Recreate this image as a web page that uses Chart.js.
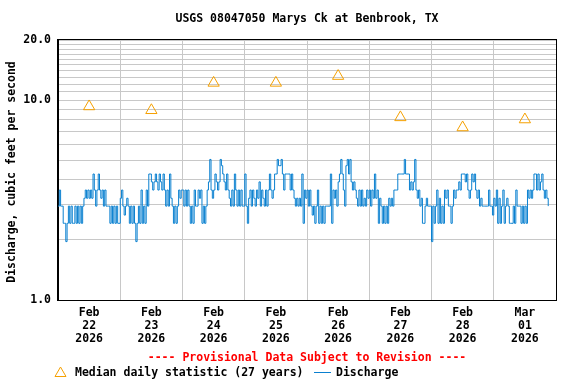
<!DOCTYPE html>
<html>
<head>
<meta charset="utf-8">
<script src="https://cdn.jsdelivr.net/npm/chart.js@4/dist/chart.umd.min.js"></script>
<style>
  html, body { margin: 0; padding: 0; background: #fff; }
  #wrap { width: 576px; height: 384px; }
</style>
</head>
<body>
<div id="wrap"><canvas id="c" width="576" height="384"></canvas></div>
<script>
// ─── DATA ────────────────────────────────────────────────────────────────
const chartTitle = 'USGS 08047050 Marys Ck at Benbrook, TX';
const yAxisTitle = 'Discharge, cubic feet per second';

// x tick labels, one per day (shown at noon)
const tickMonths = ['Feb', 'Feb', 'Feb', 'Feb', 'Feb', 'Feb', 'Feb', 'Mar'];
const tickDays   = ['22', '23', '24', '25', '26', '27', '28', '01'];
const tickYears  = ['2026', '2026', '2026', '2026', '2026', '2026', '2026', '2026'];

const yLabelled = [1, 10, 20];

// median daily statistic (cfs), one per day
const medianDaily = [9.3, 8.9, 12.2, 12.2, 13.2, 8.2, 7.3, 8.0];

// discharge steps seen in the 15-minute record (cfs)
const levels = [1.96, 2.42, 2.66, 2.95, 3.23, 3.55, 3.9, 4.27, 4.7, 5.05];

// half-hourly readings per day, as index into levels
const feb22 = [3,5,3,3,1,1,0,1,3,1,3,1,1,3,1,3,1,3,1,3,4,5,4,5,4,5,4,7,5,3,5,7,5,4,5,3,5,3,3,3,1,3,1,3,1,3,1,1];
const feb23 = [4,5,3,2,3,4,3,1,3,1,3,1,0,1,3,1,5,1,3,1,5,3,7,7,6,5,6,7,6,5,7,6,5,7,5,3,5,3,7,4,3,1,3,1,3,5,4,5];
const feb24 = [5,3,5,3,5,3,1,3,1,5,3,3,5,4,5,1,3,1,3,5,6,9,5,4,5,7,6,5,6,9,8,7,6,5,7,5,4,3,5,3,7,5,3,5,3,5,3,3];
const feb25 = [7,3,1,4,5,3,5,4,3,5,4,6,3,5,4,3,5,3,5,7,5,4,5,7,7,9,8,8,9,7,5,7,7,7,7,5,7,5,4,3,4,3,4,3,7,1,5,4];
const feb26 = [5,3,5,3,2,3,1,3,5,1,3,1,3,1,3,3,3,3,7,1,5,4,5,3,6,7,9,7,5,3,8,9,7,9,6,5,6,5,4,3,5,3,5,3,4,3,5,4];
const feb27 = [5,3,5,4,7,4,5,1,4,3,1,3,1,3,1,4,3,4,3,5,5,5,7,7,7,7,7,9,7,7,7,5,6,5,6,9,5,4,5,3,4,1,1,3,4,3,3,3];
const feb28 = [0,3,1,3,5,1,4,1,3,1,5,4,5,3,3,1,3,5,4,5,5,6,5,7,7,7,6,7,5,4,5,7,6,7,5,4,5,3,4,3,3,3,3,3,5,3,3,2];
const mar01 = [4,3,5,1,4,1,3,5,1,3,4,3,1,1,1,3,1,5,3,3,3,1,3,1,3,1,5,4,5,4,5,7,7,5,7,5,6,7,5,4,5,4,3];

const dayReadings = [feb22, feb23, feb24, feb25, feb26, feb27, feb28, mar01];

// ─── BUILD ───────────────────────────────────────────────────────────────
const discharge = [];
dayReadings.forEach((codes, d) => {
  codes.forEach((c, i) => discharge.push({ x: d * 24 + i * 0.5, y: levels[c] }));
});
const medians = medianDaily.map((v, d) => ({ x: d * 24 + 12, y: v }));

const FONT = '"DejaVu Sans Mono", "Liberation Mono", monospace';
const BLUE = '#0a80d0';
const ORANGE = '#f5a000';
const GRID = '#c8c8c8';

const decorPlugin = {
  id: 'decor',
  afterDraw(chart) {
    const { ctx, chartArea: a } = chart;
    ctx.save();
    // frame
    ctx.strokeStyle = '#000';
    ctx.lineWidth = 1;
    ctx.strokeRect(Math.round(a.left) - 0.5, Math.round(a.top) - 0.5, Math.round(a.right - a.left) + 1, Math.round(a.bottom - a.top) + 1);

    const cx = (a.left + a.right) / 2;
    ctx.font = 'bold 11.5px ' + FONT;
    ctx.textBaseline = 'middle';

    // title
    ctx.fillStyle = '#000';
    ctx.textAlign = 'center';
    ctx.fillText(chartTitle, cx, 19);

    // y title
    ctx.save();
    ctx.translate(12, (a.top + a.bottom) / 2 + 2);
    ctx.rotate(-Math.PI / 2);
    ctx.fillText(yAxisTitle, 0, 0);
    ctx.restore();

    // provisional note
    ctx.fillStyle = '#ff0000';
    ctx.fillText('---- Provisional Data Subject to Revision ----', cx, 358);

    // legend
    const ly = 372;
    ctx.strokeStyle = ORANGE;
    ctx.lineWidth = 1;
    ctx.beginPath();
    ctx.moveTo(60.5, ly - 5);
    ctx.lineTo(66, ly + 4.5);
    ctx.lineTo(55, ly + 4.5);
    ctx.closePath();
    ctx.stroke();
    ctx.fillStyle = '#000';
    ctx.textAlign = 'left';
    ctx.fillText('Median daily statistic (27 years)', 75, ly + 1);
    ctx.strokeStyle = BLUE;
    ctx.beginPath();
    ctx.moveTo(314, ly + 0.5);
    ctx.lineTo(331, ly + 0.5);
    ctx.stroke();
    ctx.fillText('Discharge', 336, ly + 1);
    ctx.restore();
  }
};

new Chart(document.getElementById('c'), {
  type: 'line',
  data: {
    datasets: [
      {
        label: 'Median daily statistic (27 years)',
        type: 'scatter',
        data: medians,
        pointStyle: 'triangle',
        pointRadius: 6.5,
        borderColor: ORANGE,
        backgroundColor: 'rgba(0,0,0,0)',
        borderWidth: 1,
        showLine: false
      },
      {
        label: 'Discharge',
        data: discharge,
        borderColor: BLUE,
        borderWidth: 1,
        pointRadius: 0,
        stepped: true,
        fill: false
      }
    ]
  },
  options: {
    responsive: false,
    animation: false,
    devicePixelRatio: 1,
    layout: { padding: { top: 40, right: 20, left: 0, bottom: 0 } },
    plugins: { legend: { display: false }, title: { display: false }, tooltip: { enabled: false } },
    scales: {
      x: {
        type: 'linear',
        min: 0,
        max: 192,
        afterBuildTicks: s => { s.ticks = []; for (let h = 0; h <= 192; h += 12) s.ticks.push({ value: h }); },
        afterFit: s => { s.height = 84; },
        grid: {
          color: c => (c.tick && c.tick.value % 24 === 0) ? GRID : 'rgba(0,0,0,0)',
          drawTicks: false
        },
        border: { display: true, color: '#000' },
        ticks: {
          autoSkip: false,
          maxRotation: 0,
          padding: 7,
          color: '#000',
          font: { family: FONT, size: 11.5, weight: 'bold', lineHeight: 1.13 },
          callback: v => {
            if (v % 24 !== 12) return '';
            const d = (v - 12) / 24;
            return [tickMonths[d], tickDays[d], tickYears[d]];
          }
        }
      },
      y: {
        type: 'logarithmic',
        min: 1,
        max: 20,
        afterBuildTicks: s => { s.ticks = []; for (let v = 1; v <= 20; v++) s.ticks.push({ value: v }); },
        afterFit: s => { s.width = 58; },
        grid: { color: GRID, drawTicks: false },
        border: { display: true, color: '#000' },
        ticks: {
          autoSkip: false,
          padding: 7,
          color: '#000',
          font: { family: FONT, size: 11.5, weight: 'bold' },
          callback: v => yLabelled.includes(v) ? v.toFixed(1) : ''
        }
      }
    }
  },
  plugins: [decorPlugin]
});
</script>
</body>
</html>
